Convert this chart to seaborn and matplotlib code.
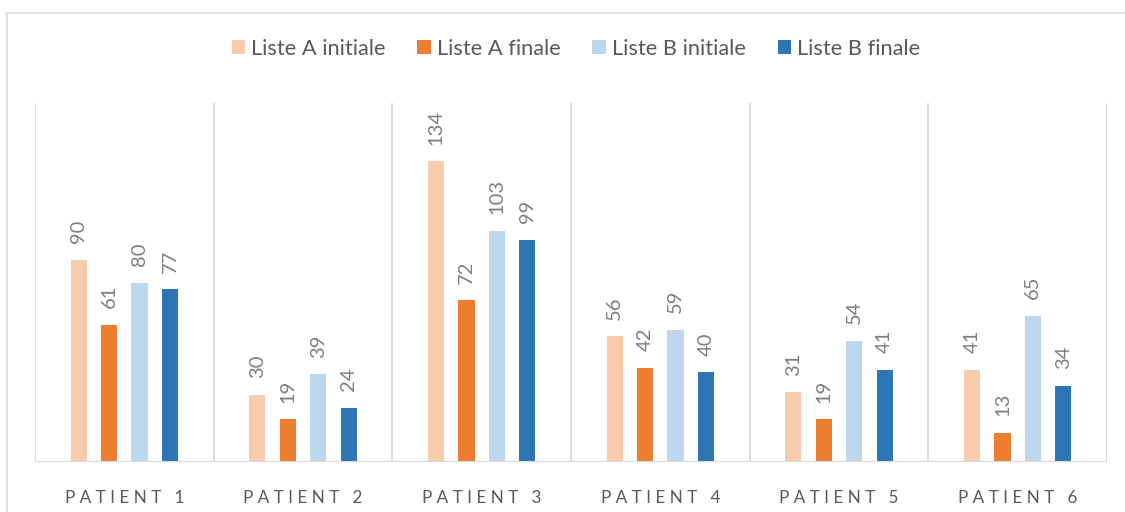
import matplotlib
matplotlib.use("Agg")
import matplotlib.pyplot as plt
from matplotlib.lines import Line2D
import seaborn as sns
import pandas as pd

# Word counts per patient for each list, before and after
patients = ["Patient 1", "Patient 2", "Patient 3", "Patient 4", "Patient 5", "Patient 6"]
series = ["Liste A initiale", "Liste A finale", "Liste B initiale", "Liste B finale"]
liste_a_initiale = [90, 30, 134, 56, 31, 41]
liste_a_finale = [61, 19, 72, 42, 19, 13]
liste_b_initiale = [80, 39, 103, 59, 54, 65]
liste_b_finale = [77, 24, 99, 40, 41, 34]
colors = ["#F8CBAD", "#ED7D31", "#BDD7EE", "#2E75B6"]

rows = []
for name, values in zip(series, [liste_a_initiale, liste_a_finale, liste_b_initiale, liste_b_finale]):
    for p, v in zip(patients, values):
        rows.append({"patient": p, "serie": name, "valeur": v})
df = pd.DataFrame(rows)

sns.set_theme(style="white")
plt.rcParams["font.family"] = ["Lato", "DejaVu Sans"]

W, H = 1125, 512
fig = plt.figure(figsize=(W / 100, H / 100), dpi=100)
ax = fig.add_axes([35 / W, (H - 462) / H, (1107 - 35) / W, (462 - 103) / H])

sns.barplot(data=df, x="patient", y="valeur", hue="serie", order=patients,
            hue_order=series, palette=colors, saturation=1, width=0.68, gap=0.47,
            linewidth=0, errorbar=None, ax=ax)

grid_c = "#D9D9D9"
ax.set_xlim(-0.5, len(patients) - 0.5)
ax.set_ylim(0, 160)
for s in ax.spines.values():
    s.set_visible(False)
ax.vlines([i - 0.5 for i in range(len(patients) + 1)], 0, 160, color=grid_c, lw=1.3, zorder=0)
ax.axhline(0, color=grid_c, lw=1.5, zorder=3)


def spaced(label):
    word, num = label.upper().rsplit(" ", 1)
    return " ".join(word) + "   " + num


ax.set_yticks([])
ax.set_xlabel("")
ax.set_ylabel("")
ax.set_xticks(range(len(patients)))
ax.set_xticklabels([spaced(p) for p in patients], fontsize=12.3, color="#595959")
ax.tick_params(axis="x", length=0, pad=20)

for cont in ax.containers:
    ax.bar_label(cont, rotation=90, padding=12, fontsize=14.5, color="#7F7F7F")

handles, labels = ax.get_legend_handles_labels()
ax.legend(handles, labels, loc="center", bbox_to_anchor=(0.512, 1 - 49 / H),
          bbox_transform=fig.transFigure, ncol=4, frameon=False, fontsize=15.7,
          handlelength=0.6, handleheight=0.6, handletextpad=0.3,
          columnspacing=1.45, labelcolor="#595959")

# Chart frame
fig.add_artist(Line2D([6.5 / W, 6.5 / W], [0, 1 - 12.5 / H], transform=fig.transFigure,
                      color=grid_c, lw=1.2))
fig.add_artist(Line2D([6 / W, 1], [1 - 12.5 / H, 1 - 12.5 / H], transform=fig.transFigure,
                      color=grid_c, lw=1.2))

fig.savefig("out.png", dpi=100, facecolor="white")
